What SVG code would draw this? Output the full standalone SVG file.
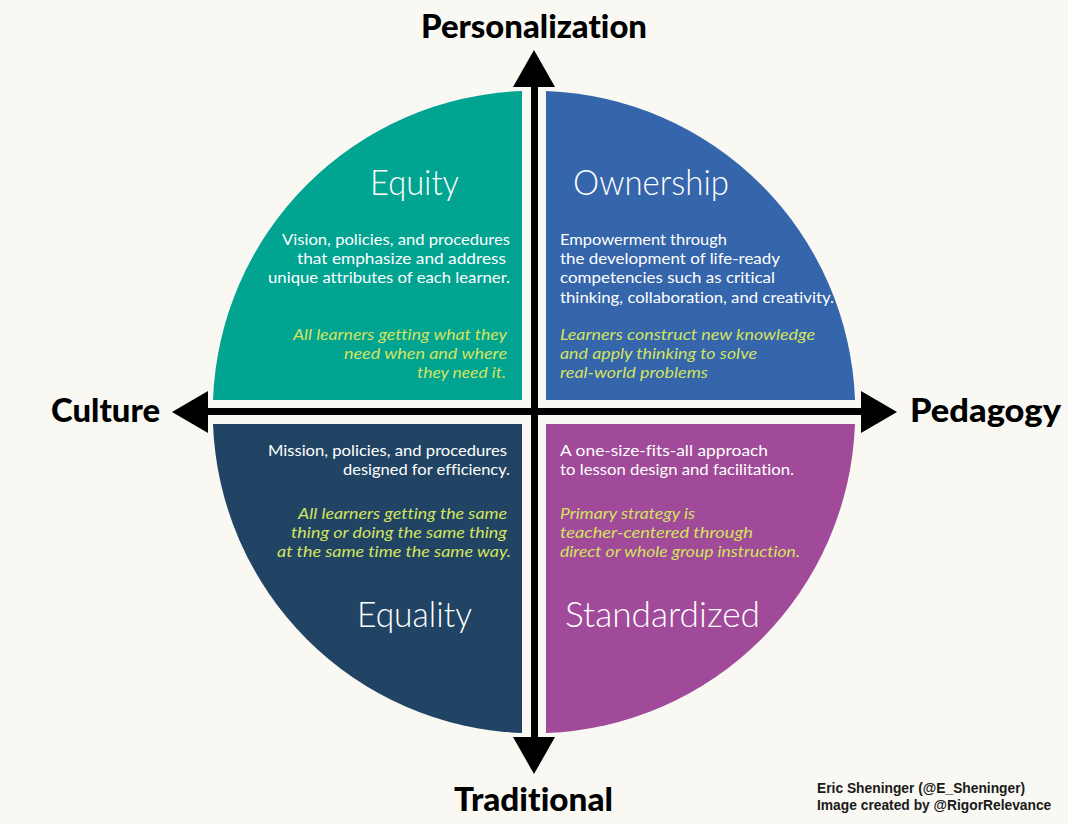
<svg xmlns="http://www.w3.org/2000/svg" width="1068" height="824" viewBox="0 0 1068 824">
<style>
text{font-family:"Lato","Open Sans",sans-serif;font-variant-ligatures:none}
.axis{font-weight:900;font-size:33px;fill:#000}
.t{font-size:35px;fill:#fff;font-weight:300}
.b{font-size:16px;fill:#fff}
.i{font-size:16px;font-style:italic;fill:#d3e35f}
.cr{font-family:"Liberation Sans",sans-serif;font-weight:700;font-size:13.8px;fill:#1a1a1a}
.ax{stroke:#000;stroke-width:7;fill:none}
</style>
<rect width="1068" height="824" fill="#f9f8f3"/>
<g id="q-equity">
<path d="M522 91V400H213A321 321 0 0 1 522 91Z" fill="#00a491"/>
<text class="t" x="370" y="195" textLength="89" lengthAdjust="spacingAndGlyphs">Equity</text>
<text class="b" x="282" y="245.3" textLength="228" lengthAdjust="spacingAndGlyphs">Vision, policies, and procedures</text>
<text class="b" x="297" y="264.3" textLength="209" lengthAdjust="spacingAndGlyphs">that emphasize and address</text>
<text class="b" x="268" y="283.3" textLength="242" lengthAdjust="spacingAndGlyphs">unique attributes of each learner.</text>
<text class="i" x="293" y="340.3" textLength="214" lengthAdjust="spacingAndGlyphs">All learners getting what they</text>
<text class="i" x="344" y="359.3" textLength="163" lengthAdjust="spacingAndGlyphs">need when and where</text>
<text class="i" x="417" y="378.3" textLength="89" lengthAdjust="spacingAndGlyphs">they need it.</text>
</g>
<g id="q-ownership">
<path d="M546 91V400H855A321 321 0 0 0 546 91Z" fill="#3565ab"/>
<text class="t" x="573" y="195" textLength="156" lengthAdjust="spacingAndGlyphs">Ownership</text>
<text class="b" x="560" y="245.3" textLength="167" lengthAdjust="spacingAndGlyphs">Empowerment through</text>
<text class="b" x="560" y="264.3" textLength="220" lengthAdjust="spacingAndGlyphs">the development of life-ready</text>
<text class="b" x="560" y="283.3" textLength="215" lengthAdjust="spacingAndGlyphs">competencies such as critical</text>
<text class="b" x="560" y="303.3" textLength="274" lengthAdjust="spacingAndGlyphs">thinking, collaboration, and creativity.</text>
<text class="i" x="560" y="340.3" textLength="255" lengthAdjust="spacingAndGlyphs">Learners construct new knowledge</text>
<text class="i" x="560" y="359.3" textLength="197" lengthAdjust="spacingAndGlyphs">and apply thinking to solve</text>
<text class="i" x="560" y="378.3" textLength="148" lengthAdjust="spacingAndGlyphs">real-world problems</text>
</g>
<g id="q-equality">
<path d="M522 733V424H213A321 321 0 0 0 522 733Z" fill="#214464"/>
<text class="b" x="268" y="456.3" textLength="239" lengthAdjust="spacingAndGlyphs">Mission, policies, and procedures</text>
<text class="b" x="343" y="475.3" textLength="167" lengthAdjust="spacingAndGlyphs">designed for efficiency.</text>
<text class="i" x="298" y="519.3" textLength="209" lengthAdjust="spacingAndGlyphs">All learners getting the same</text>
<text class="i" x="291" y="538.3" textLength="216" lengthAdjust="spacingAndGlyphs">thing or doing the same thing</text>
<text class="i" x="277" y="557.3" textLength="234" lengthAdjust="spacingAndGlyphs">at the same time the same way.</text>
<text class="t" x="357" y="627" textLength="115" lengthAdjust="spacingAndGlyphs">Equality</text>
</g>
<g id="q-standardized">
<path d="M546 733V424H855A321 321 0 0 1 546 733Z" fill="#a04a99"/>
<text class="b" x="560" y="456.3" textLength="208" lengthAdjust="spacingAndGlyphs">A one-size-fits-all approach</text>
<text class="b" x="560" y="475.3" textLength="234" lengthAdjust="spacingAndGlyphs">to lesson design and facilitation.</text>
<text class="i" x="560" y="519.3" textLength="135" lengthAdjust="spacingAndGlyphs">Primary strategy is</text>
<text class="i" x="560" y="538.3" textLength="193" lengthAdjust="spacingAndGlyphs">teacher-centered through</text>
<text class="i" x="560" y="557.3" textLength="240" lengthAdjust="spacingAndGlyphs">direct or whole group instruction.</text>
<text class="t" x="565" y="627" textLength="195" lengthAdjust="spacingAndGlyphs">Standardized</text>
</g>
<g id="connectors">
<path class="ax" d="M534.5 85V740M206 411.5H863"/>
<path d="M534 50L555 87H513Z"/>
<path d="M534 774L555 737H513Z"/>
<path d="M172 412L208 391V433Z"/>
<path d="M897 412L861 391V433Z"/>
</g>
<g id="labels">
<text class="axis" x="421" y="38" textLength="226" lengthAdjust="spacingAndGlyphs">Personalization</text>
<text class="axis" x="454" y="811" textLength="159" lengthAdjust="spacingAndGlyphs">Traditional</text>
<text class="axis" x="51" y="422" textLength="109" lengthAdjust="spacingAndGlyphs">Culture</text>
<text class="axis" x="910" y="422" textLength="151" lengthAdjust="spacingAndGlyphs">Pedagogy</text>
<text class="cr" x="817" y="793">Eric Sheninger (@E_Sheninger)</text>
<text class="cr" x="817" y="810">Image created by @RigorRelevance</text>
</g>
</svg>
